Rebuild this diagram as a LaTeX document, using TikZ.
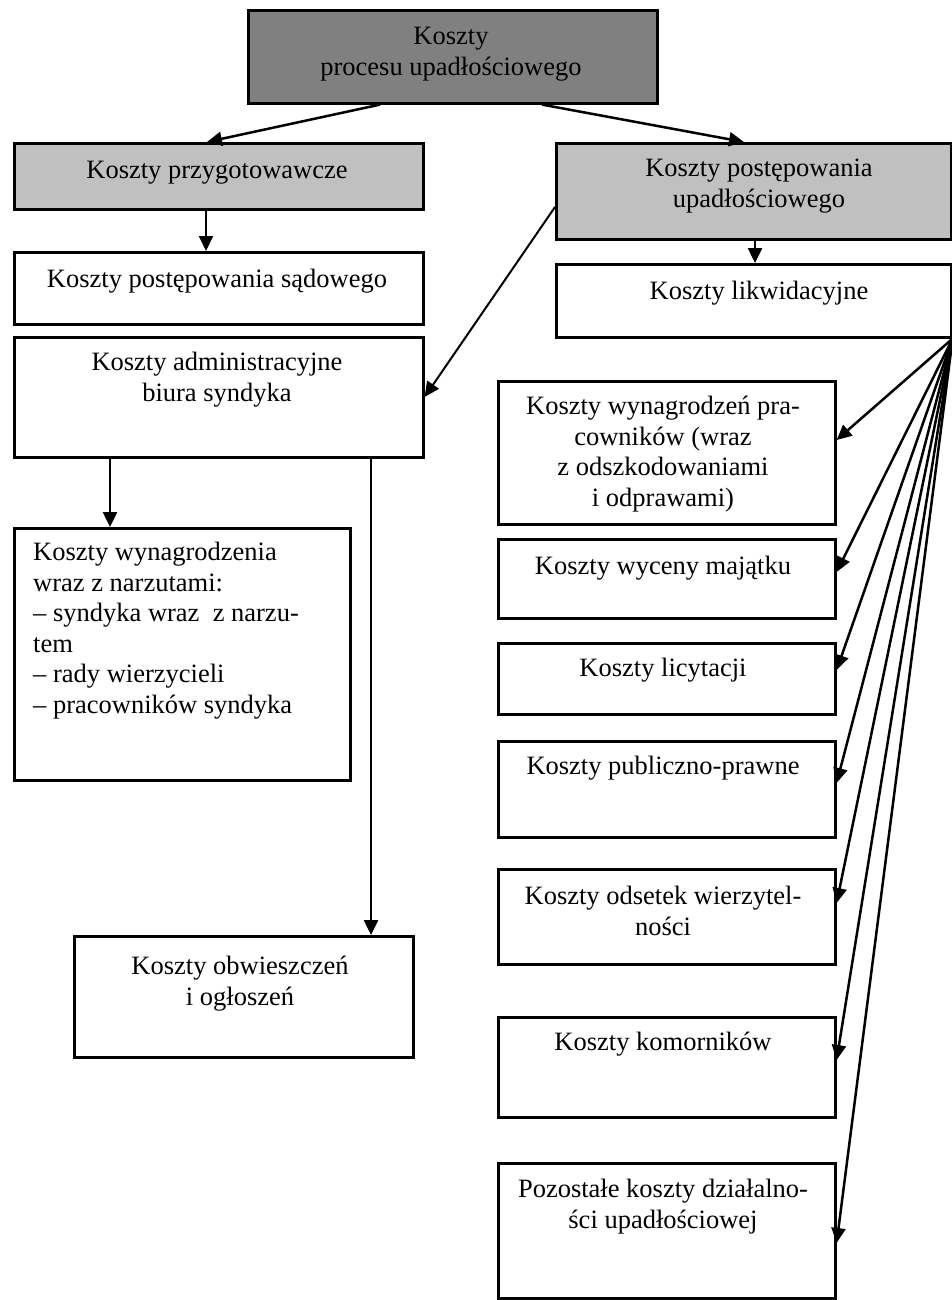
\documentclass[tikz,border=0pt]{standalone}
\usepackage{fontspec}
\setmainfont{Liberation Serif}
\usetikzlibrary{arrows.meta}
\definecolor{boxdark}{HTML}{808080}
\definecolor{boxlight}{HTML}{C0C0C0}
\begin{document}
\begin{tikzpicture}[x=1pt,y=-1pt,
  box/.style={draw=black,line width=2.6pt,fill=white,inner sep=0pt,anchor=north west},
  txt/.style={anchor=north,align=center,inner sep=0pt,font=\fontsize{26.5pt}{30.5pt}\selectfont},
  ltxt/.style={anchor=north west,align=left,inner sep=0pt,font=\fontsize{26.5pt}{30.5pt}\selectfont},
  arr/.style={line width=2.5pt,-{Triangle[length=15pt,width=14pt]}}]
\useasboundingbox (0,0) rectangle (952,1300);
% boxes
\node[box,fill=boxdark,minimum width=409pt,minimum height=93pt] (top) at (247,9) {};
\node[box,fill=boxlight,minimum width=409pt,minimum height=66pt] (prz) at (13,142) {};
\node[box,fill=boxlight,minimum width=395pt,minimum height=96pt] (post) at (555,142) {};
\node[box,minimum width=409pt,minimum height=72pt] (sad) at (13,251) {};
\node[box,minimum width=395pt,minimum height=73pt] (lik) at (555,263) {};
\node[box,minimum width=409pt,minimum height=120pt] (adm) at (13,336) {};
\node[box,minimum width=336pt,minimum height=252pt] (wyn) at (13,527) {};
\node[box,minimum width=339pt,minimum height=121pt] (obw) at (73,935) {};
\node[box,minimum width=337pt,minimum height=143pt] (b1) at (497,380) {};
\node[box,minimum width=337pt,minimum height=79pt] (b2) at (497,538) {};
\node[box,minimum width=337pt,minimum height=71pt] (b3) at (497,642) {};
\node[box,minimum width=337pt,minimum height=96pt] (b4) at (497,740) {};
\node[box,minimum width=337pt,minimum height=95pt] (b5) at (497,868) {};
\node[box,minimum width=337pt,minimum height=100pt] (b6) at (497,1016) {};
\node[box,minimum width=337pt,minimum height=135pt] (b7) at (497,1162) {};
% texts
\node[txt] (top-t) at (451,27) {Koszty\\procesu upadłościowego};
\node[txt] (prz-t) at (217,161) {Koszty przygotowawcze};
\node[txt] (post-t) at (759,159) {Koszty postępowania\\upadłościowego};
\node[txt] (sad-t) at (217,269) {Koszty postępowania sądowego};
\node[txt] (lik-t) at (759,281) {Koszty likwidacyjne};
\node[txt] (adm-t) at (217,352) {Koszty administracyjne\\biura syndyka};
\node[ltxt] (wyn-t) at (33,542) {Koszty wynagrodzenia\\wraz z narzutami:\\– syndyka wraz~ z narzu-\\tem\\– rady wierzycieli\\– pracowników syndyka};
\node[txt] (obw-t) at (240,956) {Koszty obwieszczeń\\i ogłoszeń};
\node[txt] (b1-t) at (663,396) {Koszty wynagrodzeń pra-\\cowników (wraz\\z odszkodowaniami\\i odprawami)};
\node[txt] (b2-t) at (663,556) {Koszty wyceny majątku};
\node[txt] (b3-t) at (663,658) {Koszty licytacji};
\node[txt] (b4-t) at (663,756) {Koszty publiczno-prawne};
\node[txt] (b5-t) at (663,886) {Koszty odsetek wierzytel-\\ności};
\node[txt] (b6-t) at (663,1032) {Koszty komorników};
\node[txt] (b7-t) at (663,1179) {Pozostałe koszty działalno-\\ści upadłościowej};
% connectors
\draw[arr] (top.south -| 380,0) -- (prz.north -| 207,0);
\draw[arr] (top.south -| 542,0) -- (post.north -| 744,0);
\draw[arr,line width=2pt] (prz.south -| 206,0) -- (sad.north -| 206,0);
\draw[arr] (post.south -| 755,0) -- (lik.north -| 755,0);
\draw[arr,line width=2pt] (post.west |- 0,207) -- (adm.east |- 0,397);
\draw[arr] (adm.south -| 110,0) -- (wyn.north -| 110,0);
\draw[arr] (adm.south -| 371,0) -- (obw.north -| 371,0);
\foreach \n/\yy in {b1/440,b2/572,b3/670,b4/783,b5/903,b6/1060,b7/1243}
  \draw[arr] (lik.south east) -- (\n.east |- 0,\yy);
\end{tikzpicture}
\end{document}
